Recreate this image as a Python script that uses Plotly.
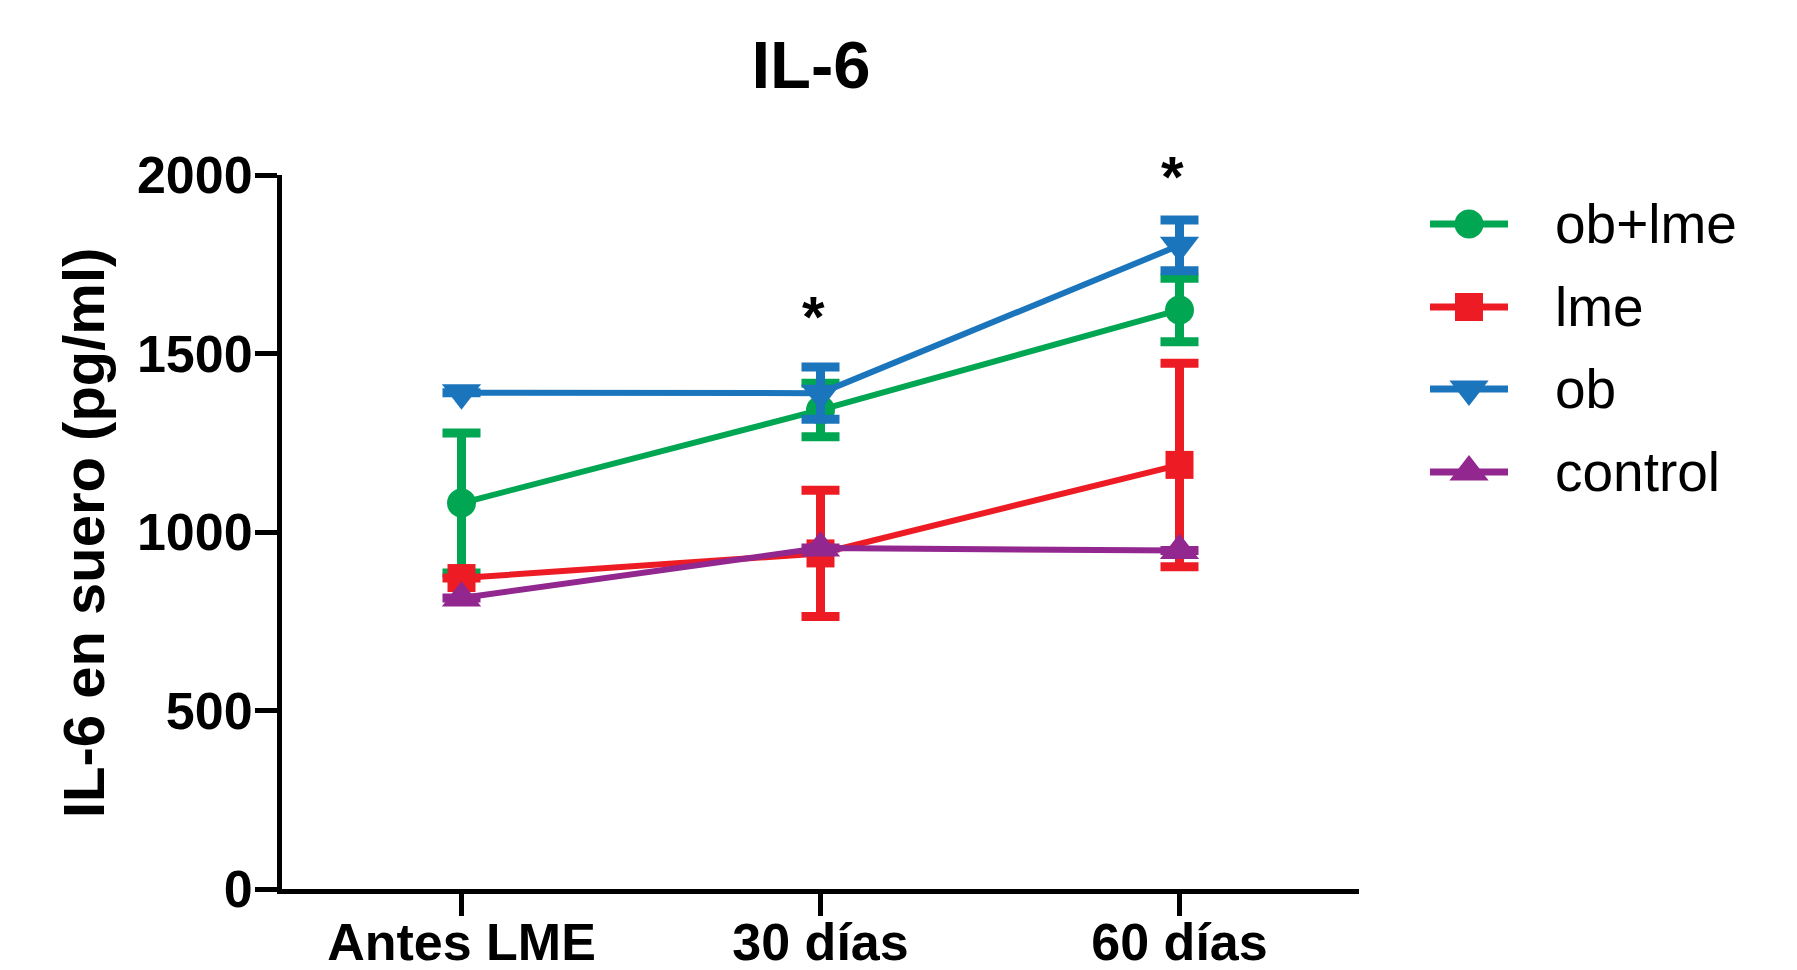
import plotly.graph_objects as go

# Time points and group means / SEM of serum IL-6 (pg/ml)
categories = ["Antes LME", "30 días", "60 días"]
group_names = ["ob+lme", "lme", "ob", "control"]
group_colors = ["#00A651", "#ED1C24", "#1B75BC", "#92278F"]
group_symbols = ["circle", "square", "triangle-down", "triangle-up"]
group_sizes = [29, 28, 34, 34]

ob_lme_mean = [1081, 1342, 1622]
ob_lme_sem = [196, 75, 89]
lme_mean = [871, 940, 1188]
lme_sem = [None, 177, 285]
ob_mean = [1390, 1389, 1803]
ob_sem = [None, 73, 71]
control_mean = [815, 955, 948]
control_sem = [None, None, None]

# Significance marks: (category index, y position)
sig_marks = [(1, 1636), (2, 2030)]

y_ticks = [0, 500, 1000, 1500, 2000]
y_max = 2000

means = [ob_lme_mean, lme_mean, ob_mean, control_mean]
sems = [ob_lme_sem, lme_sem, ob_sem, control_sem]

W, H = 1797, 970
FONT = "Liberation Sans"

x_dom = [282 / W, 1359 / W]
y_dom = [1 - 889 / H, 1 - 175 / H]

fig = go.Figure()

for name, color, sym, sz, m, s in zip(group_names, group_colors, group_symbols,
                                      group_sizes, means, sems):
    fig.add_trace(go.Scatter(
        x=categories, y=m, name=name, mode="lines+markers",
        line=dict(color=color, width=6),
        marker=dict(symbol=sym, size=sz, color=color, line=dict(width=0)),
        error_y=dict(type="data", array=s, visible=True, color=color,
                     thickness=9, width=19),
        cliponaxis=False, showlegend=False,
    ))

# Legend drawn on an auxiliary pixel-scaled axis pair at the right
leg_rows = [224, 307, 389, 472]
leg_x0, leg_x1, leg_text_x = 1430, 1508, 1553
for name, color, sym, sz, ry in zip(group_names, group_colors, group_symbols,
                                    group_sizes, leg_rows):
    fig.add_trace(go.Scatter(
        x=[leg_x0, leg_x1], y=[ry, ry], mode="lines",
        line=dict(color=color, width=7), xaxis="x2", yaxis="y2",
        showlegend=False, hoverinfo="skip", cliponaxis=False,
    ))
    fig.add_trace(go.Scatter(
        x=[(leg_x0 + leg_x1) / 2], y=[ry], mode="markers",
        marker=dict(symbol=sym, size=sz, color=color, line=dict(width=0)),
        xaxis="x2", yaxis="y2", showlegend=False, hoverinfo="skip", cliponaxis=False,
    ))
    fig.add_annotation(
        x=leg_text_x, y=ry, xref="x2", yref="y2", text=name, showarrow=False,
        xanchor="left", yanchor="middle",
        font=dict(family=FONT, size=55, color="black"),
    )

# Asterisks placed in paper space (the upper one sits above the y range)
for ci, yv in sig_marks:
    fig.add_annotation(
        x=x_dom[0] + (ci + 0.5) / 3 * (x_dom[1] - x_dom[0]),
        y=y_dom[0] + yv / y_max * (y_dom[1] - y_dom[0]),
        xref="paper", yref="paper", text="*", showarrow=False,
        xanchor="center", yanchor="middle", xshift=-7, yshift=-12,
        font=dict(family=FONT, size=58, color="black", weight="bold"),
    )

# Y axis title
fig.add_annotation(
    x=83 / W, y=1 - 533 / H, xref="paper", yref="paper",
    text="IL-6 en suero (pg/ml)", textangle=-90, showarrow=False,
    xanchor="center", yanchor="middle",
    font=dict(family=FONT, size=58, color="black", weight="bold"),
)

fig.update_layout(
    width=W, height=H,
    margin=dict(l=0, r=0, t=0, b=0, pad=0, autoexpand=False),
    paper_bgcolor="white", plot_bgcolor="rgba(0,0,0,0)",
    title=dict(text="IL-6", x=811 / W, y=1 - 65 / H, xref="paper", yref="paper",
               xanchor="center", yanchor="middle", automargin=False,
               font=dict(family=FONT, size=67, color="black", weight="bold")),
    xaxis=dict(
        domain=x_dom, type="category", range=[-0.5, 2.5], automargin=False,
        showline=True, linecolor="black", linewidth=5,
        ticks="outside", ticklen=22, tickwidth=5, tickcolor="black",
        ticklabelstandoff=-18,
        showgrid=False, zeroline=False,
        tickfont=dict(family=FONT, size=52, color="black", weight="bold"),
    ),
    yaxis=dict(
        domain=y_dom, range=[0, y_max], tickvals=y_ticks, automargin=False,
        showline=True, linecolor="black", linewidth=5,
        ticks="outside", ticklen=22, tickwidth=5, tickcolor="black",
        ticklabelstandoff=-8,
        showgrid=False, zeroline=False,
        tickfont=dict(family=FONT, size=52, color="black", weight="bold"),
    ),
    xaxis2=dict(domain=[1400 / W, 1.0], range=[1400, W], visible=False,
                anchor="y2", fixedrange=True, automargin=False),
    yaxis2=dict(domain=[0.0, 1.0], range=[H, 0], visible=False,
                anchor="x2", fixedrange=True, automargin=False),
    showlegend=False,
)

fig.write_html("out.html")
